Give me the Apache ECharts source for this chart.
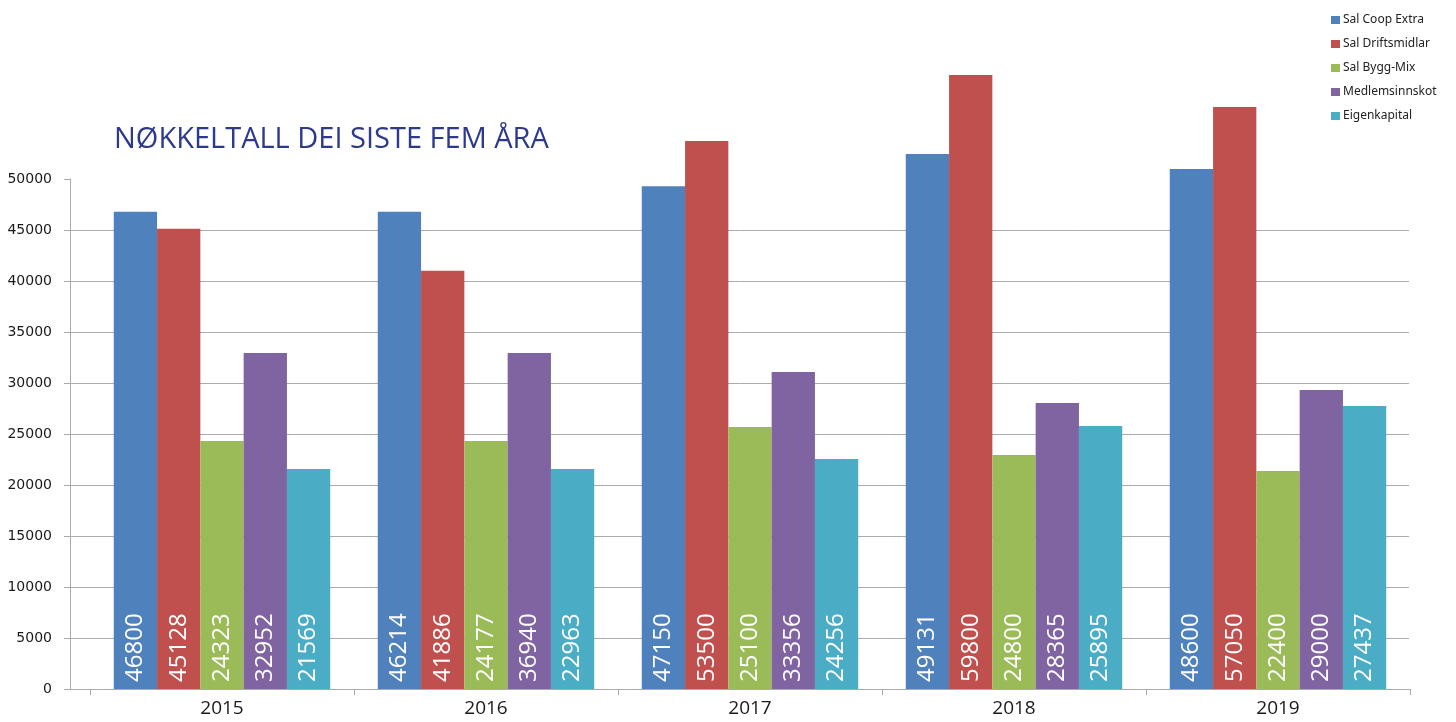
<!DOCTYPE html>
<html>
<head>
<meta charset="utf-8">
<script src="https://cdn.jsdelivr.net/npm/echarts@6/dist/echarts.min.js"></script>
<style>
html,body{margin:0;padding:0;background:#fff;}
#chart{width:1456px;height:722px;}
</style>
</head>
<body>
<div id="chart"></div>
<script>
// ---- data ----
const years = ['2015', '2016', '2017', '2018', '2019'];
const seriesNames = ['Sal Coop Extra', 'Sal Driftsmidlar', 'Sal Bygg-Mix', 'Medlemsinnskot', 'Eigenkapital'];
// bar heights as drawn in the picture
const salCoopExtra   = [46800, 46800, 49300, 52450, 50980];
const salDriftsmidlar = [45128, 41000, 53720, 60200, 57060];
const salByggMix     = [24323, 24323, 25690, 22940, 21370];
const medlemsinnskot = [32952, 32952, 31080, 28040, 29310];
const eigenkapital   = [21569, 21569, 22550, 25780, 27740];
// value labels as printed on the bars
const lblCoopExtra    = ['46800', '46214', '47150', '49131', '48600'];
const lblDriftsmidlar = ['45128', '41886', '53500', '59800', '57050'];
const lblByggMix      = ['24323', '24177', '25100', '24800', '22400'];
const lblMedlem       = ['32952', '36940', '33356', '28365', '29000'];
const lblEigen        = ['21569', '22963', '24256', '25895', '27437'];
const yTicks = [0, 5000, 10000, 15000, 20000, 25000, 30000, 35000, 40000, 45000, 50000];

const values = [salCoopExtra, salDriftsmidlar, salByggMix, medlemsinnskot, eigenkapital];
const labels = [lblCoopExtra, lblDriftsmidlar, lblByggMix, lblMedlem, lblEigen];
const colors = ['#4f81bd', '#c0504d', '#9bbb59', '#8064a2', '#4bacc6'];

const chart = echarts.init(document.getElementById('chart'));
const gridColor = '#ababab';

const option = {
  animation: false,
  backgroundColor: '#ffffff',
  color: colors,
  title: {
    text: 'NØKKELTALL DEI SISTE FEM ÅRA',
    left: 109, top: 120,
    textStyle: { fontFamily: 'Open Sans', fontWeight: 'normal', fontSize: 29, color: '#2d3a8c' }
  },
  legend: {
    orient: 'vertical',
    left: 1326, top: 9,
    itemWidth: 9, itemHeight: 8, itemGap: 12,
    icon: 'rect',
    textStyle: { fontFamily: 'Noto Sans', fontSize: 12, color: '#222', padding: [0, 0, 0, -2] },
    data: seriesNames
  },
  grid: [
    { left: 70, right: 47, top: 179, bottom: 33 },
    { left: 90, right: 46, top: 26, bottom: 33 }
  ],
  xAxis: [
    {
      type: 'category', gridIndex: 0, data: years,
      axisLine: { show: true, lineStyle: { color: gridColor, width: 1 } },
      axisTick: { show: false }, axisLabel: { show: false }, splitLine: { show: false }
    },
    {
      type: 'category', gridIndex: 1, data: years,
      axisLine: { show: true, lineStyle: { color: gridColor, width: 1 } },
      axisTick: { show: true, length: 6, lineStyle: { color: gridColor } },
      axisLabel: { fontFamily: 'Open Sans', fontSize: 19, color: '#1a1a1a', margin: 10 }
    }
  ],
  yAxis: [
    {
      type: 'value', gridIndex: 0, min: 0, max: 50000, interval: 5000,
      axisLine: { show: true, lineStyle: { color: gridColor, width: 1 } },
      axisTick: { show: true, length: 6, lineStyle: { color: gridColor } },
      axisLabel: {
        fontFamily: 'DejaVu Sans', fontSize: 14, color: '#1a1a1a', margin: 18,
        formatter: v => (yTicks.indexOf(v) >= 0 ? String(v) : '')
      },
      splitLine: { show: true, showMaxLine: false, lineStyle: { color: gridColor, width: 1 } }
    },
    {
      type: 'value', gridIndex: 1, min: 0, max: 65000, show: false,
      splitLine: { show: false }
    }
  ],
  series: seriesNames.map((name, i) => ({
    name: name,
    type: 'bar',
    xAxisIndex: 1, yAxisIndex: 1,
    data: values[i],
    barGap: 0,
    barCategoryGap: '18%',
    itemStyle: { color: colors[i] },
    label: {
      show: true,
      position: 'insideBottom',
      rotate: 90,
      align: 'left',
      verticalAlign: 'middle',
      distance: 7,
      fontFamily: 'Open Sans',
      fontSize: 24,
      color: '#ffffff',
      formatter: p => labels[i][p.dataIndex]
    }
  }))
};
chart.setOption(option);
</script>
</body>
</html>
